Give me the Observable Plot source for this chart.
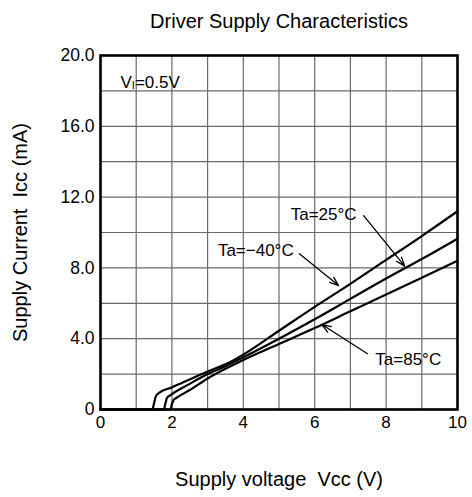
<!DOCTYPE html>
<html>
<head>
<meta charset="utf-8">
<script src="https://cdn.jsdelivr.net/npm/d3@7"></script>
<script src="https://cdn.jsdelivr.net/npm/@observablehq/plot@0.6"></script>
<style>
  html, body { margin: 0; padding: 0; background: #fff; }
  svg { display: block; }
</style>
</head>
<body>
<div id="chart"></div>
<script>
// Series: Ta = -40°C (top line at high Vcc)
const vccM40 = [0, 1.45, 1.5, 1.55, 1.65, 2.0, 2.5, 3.0, 3.5, 4.0, 5.0, 6.0, 7.0, 8.0, 9.0, 10.0];
const iccM40 = [0, 0, 0.35, 0.75, 0.95, 1.25, 1.7, 2.15, 2.55, 3.1, 4.45, 5.8, 7.1, 8.45, 9.8, 11.2];
// Ta = 25°C (middle line)
const vcc25 = [0, 1.77, 1.82, 1.86, 1.95, 2.5, 3.0, 3.5, 4.0, 5.0, 6.0, 7.0, 8.0, 9.0, 10.0];
const icc25 = [0, 0, 0.35, 0.65, 0.8, 1.45, 2.0, 2.45, 2.95, 4.0, 5.1, 6.25, 7.4, 8.5, 9.65];
// Ta = 85°C (bottom line)
const vcc85 = [0, 1.96, 2.0, 2.05, 2.12, 2.5, 3.0, 3.5, 4.0, 5.0, 6.0, 7.0, 8.0, 9.0, 10.0];
const icc85 = [0, 0, 0.3, 0.55, 0.65, 1.1, 1.75, 2.3, 2.8, 3.7, 4.6, 5.55, 6.5, 7.45, 8.4];

// Axis ticks
const xTicks = [0, 2, 4, 6, 8, 10];
const yTicks = [0, 4, 8, 12, 16, 20];
const xGrid = [1, 2, 3, 4, 5, 6, 7, 8, 9];
const yGrid = [2, 4, 6, 8, 10, 12, 14, 16, 18];

// Annotations: label text, label position, arrow start, arrow end
const labelText = ["Ta=25°C", "Ta=\u221240°C", "Ta=85°C"];
const labelX = [6.25, 4.35, 8.62];
const labelY = [11.0, 9.0, 2.8];
const arrowX1 = [7.37, 5.57, 7.48];
const arrowY1 = [10.95, 8.8, 3.15];
const arrowX2 = [8.52, 6.67, 6.2];
const arrowY2 = [8.1, 7.0, 4.8];

const titleText = "Driver Supply Characteristics";
const xLabel = "Supply voltage  Vcc (V)";
const yLabel = "Supply Current  Icc (mA)";
const condition = "VI=0.5V";
const conditionX = [0.56];
const conditionY = [18.5];

const series = [
  {name: "-40", x: vccM40, y: iccM40},
  {name: "25", x: vcc25, y: icc25},
  {name: "85", x: vcc85, y: icc85}
];
const lineData = series.flatMap(s => s.x.map((v, i) => ({series: s.name, vcc: v, icc: s.y[i]})));
const annotations = labelText.map((t, i) => ({
  text: t, x: labelX[i], y: labelY[i],
  x1: arrowX1[i], y1: arrowY1[i], x2: arrowX2[i], y2: arrowY2[i]
}));

const font = "'Liberation Sans', Arial, Helvetica, sans-serif";

const chart = Plot.plot({
  width: 472,
  height: 497,
  marginLeft: 100,
  marginRight: 15,
  marginTop: 55,
  marginBottom: 88,
  style: {fontFamily: font, fontSize: "17px", color: "#000", background: "#fff"},
  x: {domain: [0, 10], label: null},
  y: {domain: [0, 20], label: null},
  marks: [
    Plot.ruleX(xGrid, {stroke: "#6a6a6a", strokeWidth: 1.2}),
    Plot.ruleY(yGrid, {stroke: "#6a6a6a", strokeWidth: 1.2}),
    Plot.axisX(xTicks, {tickSize: 0, tickPadding: 6, fontSize: 17, tickFormat: d => String(d)}),
    Plot.axisY(yTicks, {tickSize: 0, tickPadding: 6, fontSize: 17.5, tickFormat: d => d === 0 ? "0" : d.toFixed(1)}),
    Plot.line(lineData, {x: "vcc", y: "icc", z: "series", stroke: "#000", strokeWidth: 2.2, curve: "monotone-x"}),
    Plot.arrow(annotations, {x1: "x1", y1: "y1", x2: "x2", y2: "y2", stroke: "#000", strokeWidth: 1.3, headLength: 11, headAngle: 40}),
    Plot.text(annotations, {x: "x", y: "y", text: "text", fontSize: 17, fill: "#000"}),
    Plot.text([condition], {x: conditionX, y: conditionY, text: d => d, textAnchor: "start", fontSize: 17, fill: "#000", className: "cond"}),
    Plot.frame({stroke: "#000", strokeWidth: 2.6}),
    Plot.text([titleText], {frameAnchor: "top", dy: -42, fontSize: 20, fill: "#000"}),
    Plot.text([xLabel], {frameAnchor: "bottom", dy: 76, fontSize: 20, fill: "#000"}),
    Plot.text([yLabel], {frameAnchor: "left", dx: -80, rotate: -90, textAnchor: "middle", fontSize: 20, fill: "#000"})
  ]
});

// make the "I" in VI a small subscript-like character
d3.select(chart).selectAll("g.cond text").each(function() {
  const t = d3.select(this);
  t.text(null);
  t.append("tspan").text("V");
  t.append("tspan").attr("font-size", "11px").attr("dy", "1").text("I");
  t.append("tspan").attr("dy", "-1").text("=0.5V");
});

document.getElementById("chart").appendChild(chart);
</script>
</body>
</html>
